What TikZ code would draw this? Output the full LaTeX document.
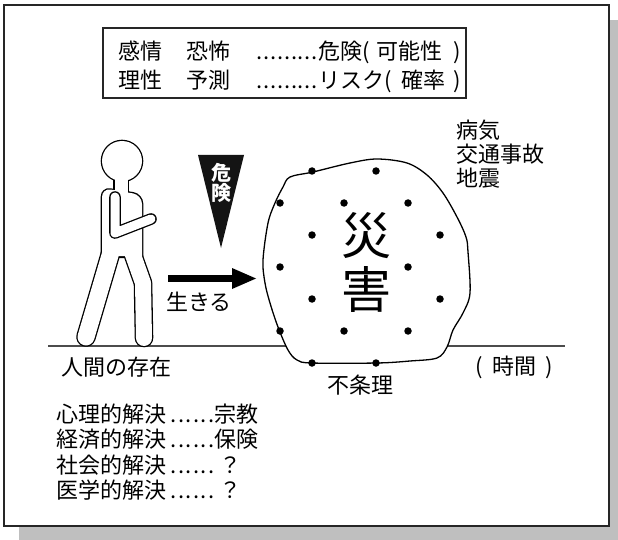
\documentclass[tikz,border=0pt]{standalone}
\usepackage{fontspec}
\setmainfont{Noto Sans CJK JP}
% evenly spaced run of periods, total width #1, one period per #2
\newcommand\dotrun[2]{\hbox to #1{\xleaders\hbox to #2{\hss.\hss}\hfill}}
\begin{document}
\begin{tikzpicture}[x=1pt,y=-1pt,
  lbl/.style={inner sep=0pt,anchor=base west,font=\fontsize{22}{26}\selectfont},
  mid/.style={inner sep=0pt,anchor=base,font=\fontsize{22}{26}\selectfont},
  bigchar/.style={inner sep=0pt,font=\fontsize{50}{56}\selectfont},
  signchar/.style={inner sep=0pt,text=white,font=\fontsize{20}{22}\selectfont\bfseries},
  spot/.style={fill=black,circle,inner sep=0pt,minimum size=7.5pt},
  outline/.style={black,line width=#1+2.6pt,line cap=round,line join=round},
  inside/.style={white,line width=#1,line cap=round,line join=round},
]
\useasboundingbox (0,0) rectangle (618,540);

% page with drop shadow
\fill[black!25] (19,20) rectangle (618,540);
\draw[fill=white,draw=black!85,line width=1.6pt] (4,5) rectangle (609,526);

% emotion / reason box
\draw[line width=1.3pt,draw=black!85] (103,28) rectangle (466,98);
\node[lbl] (kanjo) at (118,59.5) {感情};
\node[lbl] (kyofu) at (186,59.5) {恐怖};
\node[lbl] (dots1) at (256,59.5) {\dotrun{62pt}{6.8pt}};
\node[lbl] (kiken) at (318,59.5) {危険(};
\node[lbl] (kanou) at (376,59.5) {可能性};
\node[lbl] (close1) at (453,59.5) {)};
\node[lbl] (risei) at (118,88.5) {理性};
\node[lbl] (yosoku) at (186,88.5) {予測};
\node[lbl] (dots2) at (256,88.5) {\dotrun{62pt}{6.8pt}};
\node[lbl] (risk) at (318,88.5) {リスク(};
\node[lbl] (kakuritsu) at (401,88.5) {確率};
\node[lbl] (close2) at (453,88.5) {)};

% examples of disasters
\node[lbl] (byoki) at (456,139) {病気};
\node[lbl] (kotsu) at (456,163) {交通事故};
\node[lbl] (jishin) at (456,186.5) {地震};

% ground line (time axis)
\draw[line width=1.5pt,draw=black!70] (48,346) coordinate (gstart) -- (565,346) coordinate (gend);

% walking person: dark silhouette first, then white interior
\fill[black] (122,161) circle[radius=21.3pt];
\draw[outline=13pt] (121,176) -- (121,192);
\fill[black] (100.7,258) [rounded corners=10pt] -- (100.7,186.7) -- (143.3,193.7) [sharp corners] -- (143.3,258) -- cycle;
\draw[outline=17pt] (111,252) -- (86,337);
\draw[outline=16pt] (132,252) -- (143,283) -- (144,338);
\fill[white] (122,161) circle[radius=20pt];
\draw[inside=13pt] (121,176) -- (121,192);
\fill[white] (102,256) [rounded corners=9pt] -- (102,188) -- (142,195) [sharp corners] -- (142,256) -- cycle;
\draw[inside=17pt] (111,252) -- (86,337);
\draw[inside=16pt] (132,252) -- (143,283) -- (144,338);
% arm in front of the body
\draw[outline=9pt] (115,197) -- (115,233) -- (151,219);
\draw[inside=9pt] (115,197) -- (115,233) -- (151,219);

% danger pennant
\fill[black!92] (198,155) -- (244,155) -- (221,248) -- cycle;
\node[signchar] (ki) at (221,173) {危};
\node[signchar] (ken) at (221,193) {険};

% "living" arrow
\fill[black] (168,275) rectangle (234,282);
\fill[black] (232,268) -- (256,278.5) -- (232,289) -- cycle;
\node[lbl] (ikiru) at (166,310.5) {生きる};

% disaster blob
\draw[line width=1.3pt,fill=white] plot[smooth cycle,tension=0.55] coordinates {
  (290,177) (313,172) (350,163) (377,159) (407,163) (427,175) (443,193)
  (457,217) (466,237) (468,252) (470,293) (463,313) (453,330) (447,347)
  (437,358) (410,361) (377,363) (312,363) (297,360) (288,350) (278,327)
  (270,303) (265,283) (263,260) (268,223) (275,203) (283,187)};
\foreach \px/\py [count=\i] in {312/171,376/171,280/203,344/203,408/203,
    312/235,440/235,280/267,408/267,312/299,440/299,
    280/331,344/331,408/331,312/363,376/363}
  \node[spot] (d\i) at (\px,\py) {};
\node[bigchar] (sai) at (366,236) {災};
\node[bigchar] (gai) at (366,289) {害};

% labels along the ground line
\node[lbl] (sonzai) at (61,375) {人間の存在};
\node[lbl] (open3) at (475,374.5) {(};
\node[lbl] (jikan) at (492,374.5) {時間};
\node[lbl] (close3) at (545,374.5) {)};
\node[lbl] (fujori) at (327,393.5) {不条理};

% ways of coping
\node[lbl] (k1) at (56,422) {心理的解決};
\node[lbl] (k1d) at (170,422) {\dotrun{45pt}{7.5pt}};
\node[lbl] (k1r) at (214,422) {宗教};
\node[lbl] (k2) at (56,447.5) {経済的解決};
\node[lbl] (k2d) at (170,447.5) {\dotrun{45pt}{7.5pt}};
\node[lbl] (k2r) at (214,447.5) {保険};
\node[lbl] (k3) at (56,473) {社会的解決};
\node[lbl] (k3d) at (170,473) {\dotrun{45pt}{7.5pt}};
\node[mid] (k3r) at (230.5,473) {？};
\node[lbl] (k4) at (56,498.5) {医学的解決};
\node[lbl] (k4d) at (170,498.5) {\dotrun{45pt}{7.5pt}};
\node[mid] (k4r) at (230.5,498.5) {？};
\end{tikzpicture}
\end{document}
